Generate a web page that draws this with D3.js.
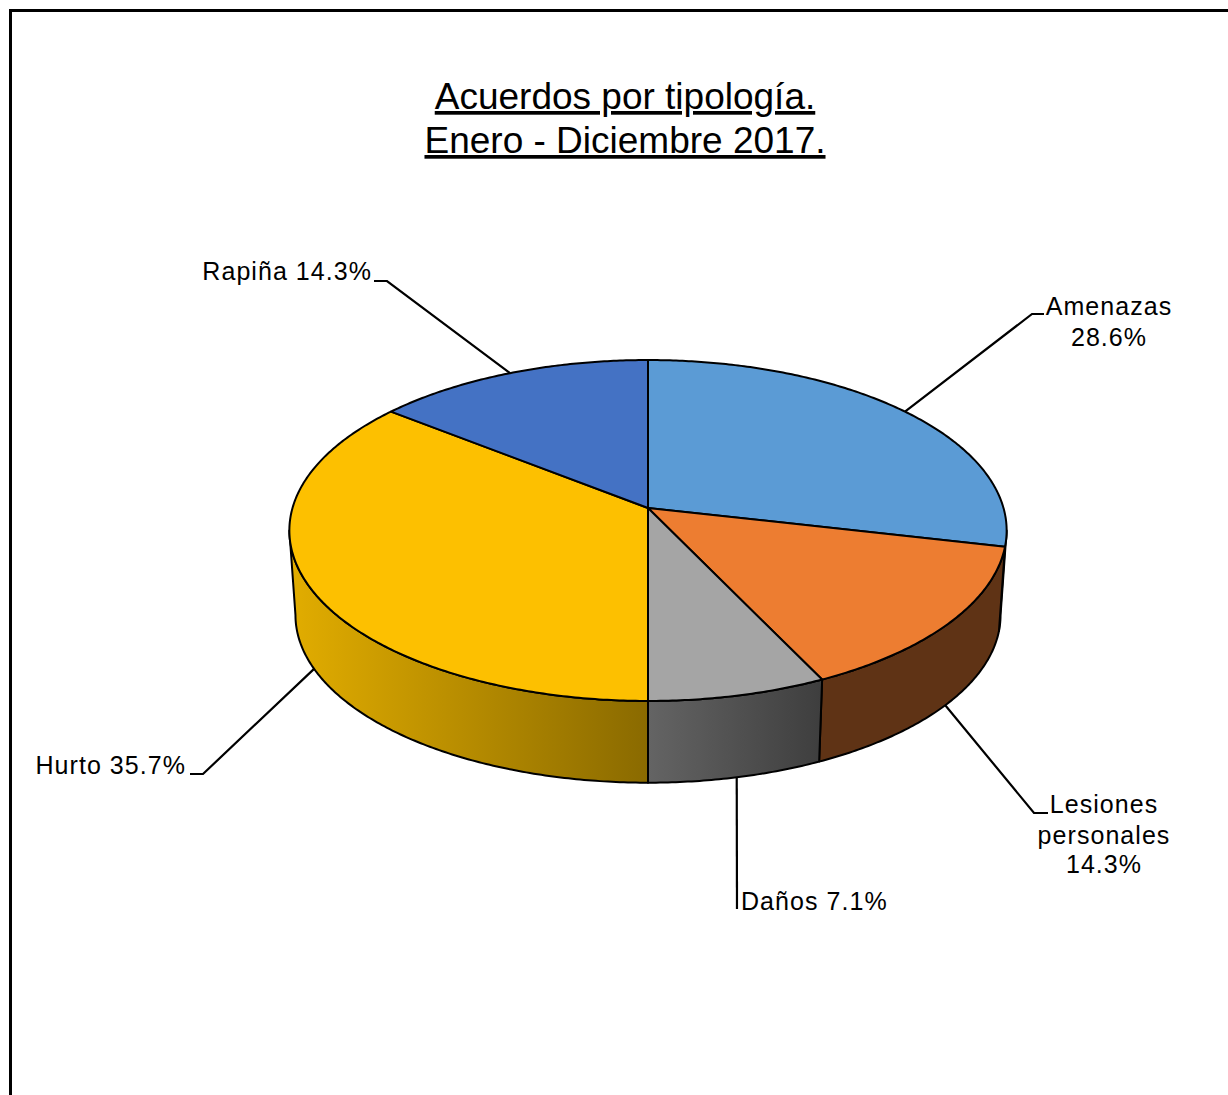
<!DOCTYPE html>
<html>
<head>
<meta charset="utf-8">
<title>Acuerdos por tipología</title>
<script src="https://cdn.jsdelivr.net/npm/d3@7"></script>
<style>
	html, body { margin: 0; padding: 0; background: white; }
	svg { display: block; }
	text { font-family: "Liberation Sans", Arial, sans-serif; fill: black; }
</style>
</head>
<body>
<div class="chart"></div>
<script>
// Data
const categories = ['Amenazas', 'Lesiones personales', 'Daños', 'Hurto', 'Rapiña'];
const percents = [28.6, 14.3, 7.1, 35.7, 14.3];
const percentLabels = ['28.6%', '14.3%', '7.1%', '35.7%', '14.3%'];
const titleLines = ['Acuerdos por tipología.', 'Enero - Diciembre 2017.'];

// Colours
const topColors = ['#5b9bd5', '#ed7d31', '#a5a5a5', '#fdc000', '#4472c4'];
const wallColorsStart = ['#2f5b85', '#5f3315', '#646464', '#e2ad00', '#2a4478'];
const wallColorsEnd = ['#2f5b85', '#5f3315', '#3e3e3e', '#8a6a00', '#2a4478'];

// Chart settings
const width = 1228;
const height = 1095;
const pieX = 648;
const pieTopY = 508;
const pieBottomY = 593;
const radiusX = 355.5;
const radiusY = 167.5;
const perspective = 0.132;
const bottomScale = 0.983;
// Angle where the side wall starts to be visible (silhouette of the tilted disc)
const wallStart = Math.PI - Math.acos(perspective);
const wallEnd = Math.PI + Math.acos(perspective);

// Label layout: elbow + end of the leader, then the text lines
const labelLayout = [
	{ onWall: false, leader: [[1032, 314], [1044, 314]], anchor: 'middle', x: 1109, y: [315, 346], lines: i => [categories[i], percentLabels[i]] },
	{ onWall: true, leader: [[1034, 813], [1048, 813]], anchor: 'middle', x: 1104, y: [813, 844, 873], lines: i => ['Lesiones', 'personales', percentLabels[i]] },
	{ onWall: true, leader: [[737, 909]], anchor: 'start', x: 741, y: [910], lines: i => [`${categories[i]} ${percentLabels[i]}`] },
	{ onWall: true, leader: [[203, 774], [190, 774]], anchor: 'end', x: 186, y: [774], lines: i => [`${categories[i]} ${percentLabels[i]}`] },
	{ onWall: false, leader: [[387, 281], [374, 281]], anchor: 'end', x: 372, y: [280], lines: i => [`${categories[i]} ${percentLabels[i]}`] }
];

// Project an angle of the disc (clockwise from the back) to the screen
function project(angle, bottom) {
	const w = 1 + perspective * Math.cos(angle);
	const scale = bottom ? bottomScale : 1;
	return [
		pieX + scale * radiusX * Math.sin(angle) / w,
		(bottom ? pieBottomY : pieTopY) - scale * radiusY * Math.cos(angle) / w
	];
}

function arcPoints(a0, a1, bottom) {
	const steps = Math.max(2, Math.ceil(Math.abs(a1 - a0) / 0.01));
	const scale = d3.scaleLinear().domain([0, steps]).range([a0, a1]);
	return d3.range(steps + 1).map(i => project(scale(i), bottom));
}

function setup() {
	const svg = d3.select('.chart')
		.append('svg')
		.attr('width', width)
		.attr('height', height);

	const defs = svg.append('defs');
	const line = d3.line();

	// Frame: only the left and top sides are inside the picture
	svg.append('path')
		.attr('d', line([[10.5, height], [10.5, 10.5], [width, 10.5]]))
		.attr('fill', 'none')
		.attr('stroke', 'black')
		.attr('stroke-width', 3);

	// Title
	const title = svg.append('g')
		.attr('text-anchor', 'middle')
		.style('font-size', '37px')
		.style('text-decoration', 'underline');
	title.selectAll('text')
		.data(titleLines)
		.join('text')
			.attr('x', 625)
			.attr('y', (d, i) => 109 + i * 44)
			.text(d => d);

	const slices = d3.pie().sort(null).value(d => d)(percents);

	// Side walls
	const walls = svg.append('g');
	slices.forEach((s, i) => {
		const a0 = Math.max(s.startAngle, wallStart);
		const a1 = Math.min(s.endAngle, wallEnd);
		if (a1 <= a0) return;
		const top = arcPoints(a0, a1, false);
		const bottom = arcPoints(a1, a0, true);
		const gradientId = `wall-${i}`;
		const gradient = defs.append('linearGradient')
			.attr('id', gradientId)
			.attr('gradientUnits', 'userSpaceOnUse')
			.attr('x1', d3.min(top, p => p[0]))
			.attr('x2', d3.max(top, p => p[0]))
			.attr('y1', 0)
			.attr('y2', 0);
		// Wall colours go left to right on the screen
		gradient.append('stop').attr('offset', 0).attr('stop-color', wallColorsStart[i]);
		gradient.append('stop').attr('offset', 1).attr('stop-color', wallColorsEnd[i]);
		walls.append('path')
			.attr('d', line(top.concat(bottom)) + 'Z')
			.attr('fill', `url(#${gradientId})`)
			.attr('stroke', 'black')
			.attr('stroke-width', 2)
			.attr('stroke-linejoin', 'round');
	});

	// Top of the pie
	svg.append('g')
		.selectAll('path')
		.data(slices)
		.join('path')
			.attr('d', s => line([[pieX, pieTopY]].concat(arcPoints(s.startAngle, s.endAngle, false))) + 'Z')
			.attr('fill', (s, i) => topColors[i])
			.attr('stroke', 'black')
			.attr('stroke-width', 2)
			.attr('stroke-linejoin', 'round');

	// Leaders and labels
	const labels = svg.append('g')
		.style('font-size', '25px')
		.style('letter-spacing', '1.05px');
	slices.forEach((s, i) => {
		const layout = labelLayout[i];
		const start = project((s.startAngle + s.endAngle) / 2, layout.onWall);
		labels.append('path')
			.attr('d', line([start].concat(layout.leader)))
			.attr('fill', 'none')
			.attr('stroke', 'black')
			.attr('stroke-width', 2.2);
		labels.append('g')
			.attr('text-anchor', layout.anchor)
			.selectAll('text')
			.data(layout.lines(i))
			.join('text')
				.attr('x', layout.x)
				.attr('y', (d, j) => layout.y[j])
				.text(d => d);
	});
}

setup();
</script>
</body>
</html>
